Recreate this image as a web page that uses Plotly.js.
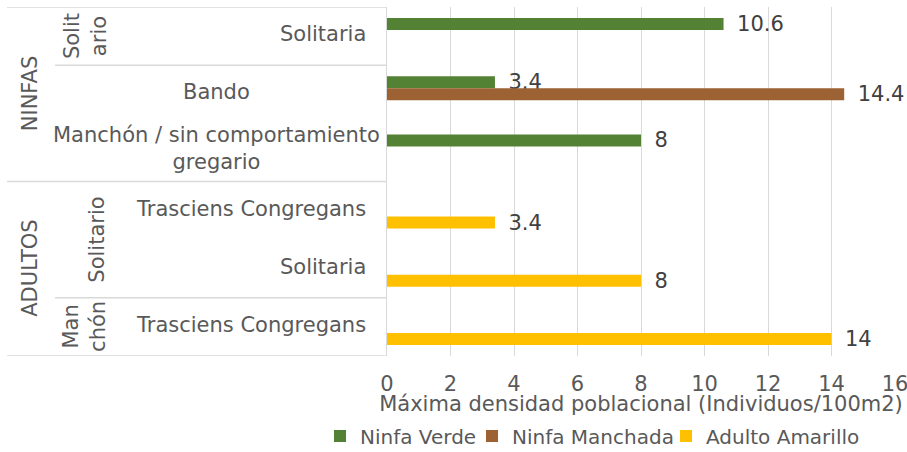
<!DOCTYPE html>
<html>
<head>
<meta charset="utf-8">
<script src="https://cdn.plot.ly/plotly-3.0.1.min.js"></script>
<style>html,body{margin:0;padding:0;background:#fff;}#chart{width:907px;height:452px;}</style>
</head>
<body>
<div id="chart"></div>
<script>
// ---- data ----
const level1 = ["NINFAS", "ADULTOS"];
const level1Span = [[0, 2], [3, 5]];
const level2 = ["Solit<br>ario", "Solitario", "Man<br>chón"];
const level2Span = [[0, 0], [3, 4], [5, 5]];
const level3 = ["Solitaria", "Bando", "Manchón / sin comportamiento<br>gregario",
                "Trasciens Congregans", "Solitaria", "Trasciens Congregans"];
const catIndex = [0, 1, 2, 3, 4, 5];
const ninfaVerde = [10.6, 3.4, 8, null, null, null];
const ninfaManchada = [null, 14.4, null, null, null, null];
const adultoAmarillo = [null, null, null, 3.4, 8, 14];
const seriesNames = ["Ninfa Verde", "Ninfa Manchada", "Adulto Amarillo"];
const xTicks = [0, 2, 4, 6, 8, 10, 12, 14, 16];

// ---- style ----
const FONT = "DejaVu Sans";
const FS = 21;
const TXT = "#595959";
const colors = ["#548235", "#9C6233", "#FFC000"];
const lineCol = "#d9d9d9";
const legendIds = ["legend", "legend2", "legend3"];
const legendTextStartPx = [360, 512, 706];

function barTrace(vals, i) {
  return {
    type: "bar", orientation: "h",
    y: catIndex, x: vals, name: seriesNames[i],
    legend: legendIds[i],
    marker: {color: colors[i]},
    texttemplate: "\u2002%{x}", textposition: "outside",
    textfont: {family: FONT, size: FS, color: "#404040"},
    constraintext: "none", cliponaxis: false,
    hoverinfo: "x"
  };
}
const data = [barTrace(ninfaVerde, 0), barTrace(ninfaManchada, 1), barTrace(adultoAmarillo, 2)];

const W = 907, H = 452;
const L = 387, T = 7, PW = 508, PH = 349;
function px2paper(px) { return (px - L) / PW; }

const annotations = [];
// level 1 (rotated)
level1.forEach((t, i) => {
  annotations.push({text: t, xref: "paper", yref: "y", x: px2paper(30),
    y: (level1Span[i][0] + level1Span[i][1]) / 2, textangle: -90, showarrow: false,
    font: {family: FONT, size: FS, color: TXT}, xanchor: "center", yanchor: "middle"});
});
// level 2 (rotated)
const level2X = [85, 97, 85];
level2.forEach((t, i) => {
  annotations.push({text: t, xref: "paper", yref: "y", x: px2paper(level2X[i]),
    y: (level2Span[i][0] + level2Span[i][1]) / 2, textangle: -90, showarrow: false,
    font: {family: FONT, size: FS, color: TXT}, xanchor: "center", yanchor: "middle"});
});
// level 3
level3.forEach((t, i) => {
  const centered = (i === 1 || i === 2);
  annotations.push({text: t, xref: "paper", yref: "y",
    x: centered ? px2paper(216) : px2paper(368), y: catIndex[i],
    xanchor: centered ? "center" : "right", yanchor: "middle",
    yshift: i === 2 ? 4 : 2, showarrow: false, align: "center",
    font: {family: FONT, size: FS, color: TXT}});
});

// separator lines of the category table
const sepY = [-0.5, 0.5, 2.5, 4.5, 5.5];
const sepStart = [7, 55, 7, 55, 7];
const shapes = sepY.map((y, i) => ({type: "line", xref: "paper", yref: "y",
  x0: px2paper(sepStart[i]), x1: 0, y0: y, y1: y,
  line: {color: lineCol, width: 1.5}}));

const layout = {
  width: W, height: H,
  margin: {l: L, r: 12, t: T, b: 96, pad: 0},
  paper_bgcolor: "#ffffff", plot_bgcolor: "#ffffff",
  barmode: "group", bargap: 0.38, bargroupgap: 0,
  font: {family: FONT, size: FS, color: TXT},
  xaxis: {range: [0, 16], tickvals: xTicks, ticktext: xTicks.map(String),
    showgrid: true, gridcolor: lineCol, gridwidth: 1, zeroline: false, showline: false,
    ticks: "outside", ticklen: 9, tickcolor: "rgba(0,0,0,0)", ticklabeloverflow: "allow",
    tickfont: {family: FONT, size: FS, color: TXT}, automargin: false,
    title: {text: "Máxima densidad poblacional (Individuos/100m2)", standoff: 15,
      font: {family: FONT, size: FS, color: TXT}}},
  yaxis: {range: [5.5, -0.5], showticklabels: false, showgrid: false, zeroline: false,
    showline: true, linecolor: lineCol, linewidth: 1.5, ticks: ""},
  showlegend: true,
  annotations: annotations,
  shapes: shapes
};
legendIds.forEach((id, i) => {
  layout[id] = {orientation: "h", xref: "container", yref: "container",
    x: (legendTextStartPx[i] - 40) / W, y: 1 - 436 / H,
    xanchor: "left", yanchor: "middle", font: {family: FONT, size: 20, color: TXT},
    itemclick: false, itemwidth: 30, bgcolor: "rgba(0,0,0,0)"};
});

Plotly.newPlot("chart", data, layout, {displayModeBar: false, staticPlot: true});
</script>
</body>
</html>
